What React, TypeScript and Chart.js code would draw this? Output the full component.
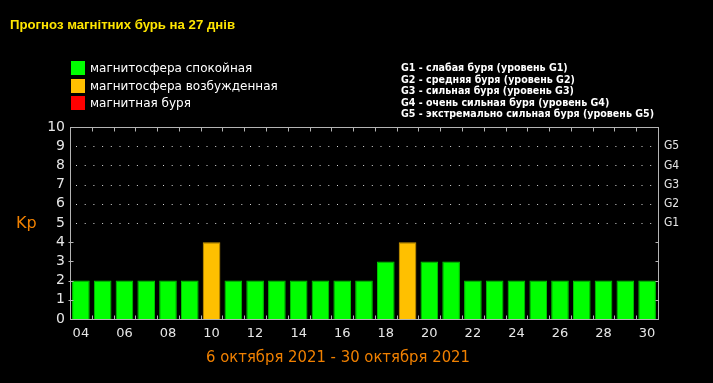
import React, { useEffect, useRef } from "react";
import { Chart, registerables } from "chart.js";

Chart.register(...registerables);

const days = ["04","05","06","07","08","09","10","11","12","13","14","15","16","17","18","19","20","21","22","23","24","25","26","27","28","29","30"];
const kpValues = [2,2,2,2,2,2,4,2,2,2,2,2,2,2,3,4,3,3,2,2,2,2,2,2,2,2,2];
const yTicks = [0,1,2,3,4,5,6,7,8,9,10];
const gLevels = [5,6,7,8,9];
const gLabels = ["G1","G2","G3","G4","G5"];
const titleText = "Прогноз магнітних бурь на 27 днів";
const legendItems = ["магнитосфера спокойная","магнитосфера возбужденная","магнитная буря"];
const legendColors = ["#00ff00","#ffc000","#ff0000"];
const gDescriptions = [
  "G1 - слабая буря (уровень G1)",
  "G2 - средняя буря (уровень G2)",
  "G3 - сильная буря (уровень G3)",
  "G4 - очень сильная буря (уровень G4)",
  "G5 - экстремально сильная буря (уровень G5)",
];
const axisTitle = "Kp";
const dateRange = "6 октября 2021 - 30 октября 2021";

function barColor(v: number) {
  if (v >= 5) return "#ff0000";
  if (v >= 4) return "#ffc000";
  return "#00ff00";
}
function barBorder(v: number) {
  if (v >= 5) return "#c00000";
  if (v >= 4) return "#d09a00";
  return "#00c800";
}

const overlay = {
  id: "overlay",
  beforeDraw(chart: any) {
    const ctx = chart.ctx;
    ctx.save();
    ctx.fillStyle = "#000";
    ctx.fillRect(0, 0, chart.width, chart.height);
    ctx.restore();
  },
  beforeDatasetsDraw(chart: any) {
    const ctx = chart.ctx;
    const a = chart.chartArea;
    const y = chart.scales.y;
    ctx.save();
    ctx.strokeStyle = "#d8d8d8";
    ctx.lineWidth = 1;
    ctx.setLineDash([1, 7.7]);
    gLevels.forEach((lv) => {
      const py = Math.round(y.getPixelForValue(lv)) + 0.5;
      ctx.beginPath();
      ctx.moveTo(a.left + 6, py);
      ctx.lineTo(a.right, py);
      ctx.stroke();
    });
    ctx.restore();
  },
  afterDatasetsDraw(chart: any) {
    const ctx = chart.ctx;
    const a = chart.chartArea;
    const x = chart.scales.x;
    const y = chart.scales.y;
    ctx.save();
    ctx.strokeStyle = "#b4b4b4";
    ctx.lineWidth = 1;
    const L = Math.round(a.left) + 0.5, R = Math.round(a.right) + 0.5;
    const T = Math.round(a.top) + 0.5, B = Math.round(a.bottom) + 0.5;
    ctx.strokeRect(L, T, R - L, B - T);
    for (let i = 1; i < days.length; i++) {
      const px = Math.round((x.getPixelForValue(i - 1) + x.getPixelForValue(i)) / 2) + 0.5;
      ctx.beginPath();
      ctx.moveTo(px, B); ctx.lineTo(px, B - 4);
      ctx.moveTo(px, T); ctx.lineTo(px, T + 4);
      ctx.stroke();
    }
    for (let v = 1; v < 5; v++) {
      const py = Math.round(y.getPixelForValue(v)) + 0.5;
      ctx.beginPath();
      ctx.moveTo(L - 2, py); ctx.lineTo(L + 3, py);
      ctx.moveTo(R, py); ctx.lineTo(R - 3, py);
      ctx.stroke();
    }
    ctx.restore();
  },
  afterDraw(chart: any) {
    const ctx = chart.ctx;
    ctx.save();
    ctx.textBaseline = "alphabetic";
    ctx.textAlign = "left";
    // title
    ctx.fillStyle = "#ffe600";
    ctx.font = "bold 12px 'Liberation Sans', Arial, sans-serif";
    const wt = ctx.measureText(titleText).width;
    ctx.save();
    ctx.translate(10, 29);
    ctx.scale(225 / wt, 1);
    ctx.fillText(titleText, 0, 0);
    ctx.restore();
    // legend
    legendItems.forEach((t, i) => {
      const top = 61 + i * 17.5;
      ctx.fillStyle = legendColors[i];
      ctx.fillRect(71, Math.round(top), 14, 14);
      ctx.fillStyle = "#ffffff";
      ctx.font = "12px 'DejaVu Sans', sans-serif";
      ctx.fillText(t, 90, Math.round(top) + 11);
    });
    // G descriptions
    ctx.font = "bold 10px 'DejaVu Sans', sans-serif";
    const w5 = ctx.measureText(gDescriptions[4]).width;
    const k = 253 / w5;
    gDescriptions.forEach((t, i) => {
      ctx.save();
      ctx.translate(401, 71 + i * 11.6);
      ctx.scale(k, 1);
      ctx.fillStyle = "#ffffff";
      ctx.fillText(t, 0, 0);
      ctx.restore();
    });
    // Kp
    ctx.fillStyle = "#f08000";
    ctx.font = "16px 'DejaVu Sans', sans-serif";
    ctx.fillText(axisTitle, 16, 228);
    // date range
    ctx.font = "15px 'DejaVu Sans', sans-serif";
    const wd = ctx.measureText(dateRange).width;
    ctx.save();
    ctx.translate(206, 362);
    ctx.scale(264 / wd, 1);
    ctx.fillText(dateRange, 0, 0);
    ctx.restore();
    ctx.restore();
  },
};

export default function App() {
  const ref = useRef<HTMLCanvasElement | null>(null);
  useEffect(() => {
    document.body.style.margin = "0";
    document.body.style.background = "#000";
    const canvas = ref.current!;
    const chart = new Chart(canvas, {
      type: "bar",
      data: {
        labels: days,
        datasets: [
          {
            data: kpValues,
            backgroundColor: kpValues.map(barColor),
            borderColor: kpValues.map(barBorder),
            borderWidth: 1,
            barPercentage: 0.81,
            categoryPercentage: 1,
          },
        ],
      },
      options: {
        responsive: false,
        animation: false,
        devicePixelRatio: 1,
        layout: { padding: { top: 127, left: 0, right: 0, bottom: 0 } },
        plugins: { legend: { display: false }, title: { display: false }, tooltip: { enabled: false } },
        scales: {
          x: {
            grid: { display: false, drawTicks: false },
            border: { display: false },
            ticks: {
              autoSkip: false,
              maxRotation: 0,
              padding: 7,
              color: "#e6e6e6",
              font: { family: "'DejaVu Sans', sans-serif", size: 13 },
              callback: (_v: any, i: number) => (i % 2 === 0 ? days[i] : ""),
            },
            afterFit: (s: any) => { s.height = 64; },
          },
          y: {
            min: 0,
            max: 10,
            grid: { display: false, drawTicks: false },
            border: { display: false },
            afterBuildTicks: (s: any) => { s.ticks = yTicks.map((v) => ({ value: v })); },
            ticks: {
              autoSkip: false,
              padding: 5,
              color: "#e6e6e6",
              font: { family: "'DejaVu Sans', sans-serif", size: 14 },
            },
            afterFit: (s: any) => { s.width = 70; },
          },
          y2: {
            position: "right",
            min: 0,
            max: 10,
            grid: { display: false, drawTicks: false },
            border: { display: false },
            afterBuildTicks: (s: any) => { s.ticks = gLevels.map((v) => ({ value: v })); },
            ticks: {
              autoSkip: false,
              padding: 6,
              color: "#e6e6e6",
              font: { family: "'DejaVu Sans Condensed', 'DejaVu Sans', sans-serif", size: 12 },
              callback: (v: any) => gLabels[gLevels.indexOf(Number(v))] ?? "",
            },
            afterFit: (s: any) => { s.width = 55; },
          },
        },
      },
      plugins: [overlay],
    });
    return () => chart.destroy();
  }, []);
  return (
    <div style={{ position: "fixed", left: 0, top: 0, width: 713, height: 383, background: "#000" }}>
      <canvas ref={ref} width={713} height={383} style={{ width: 713, height: 383, display: "block" }} />
    </div>
  );
}
